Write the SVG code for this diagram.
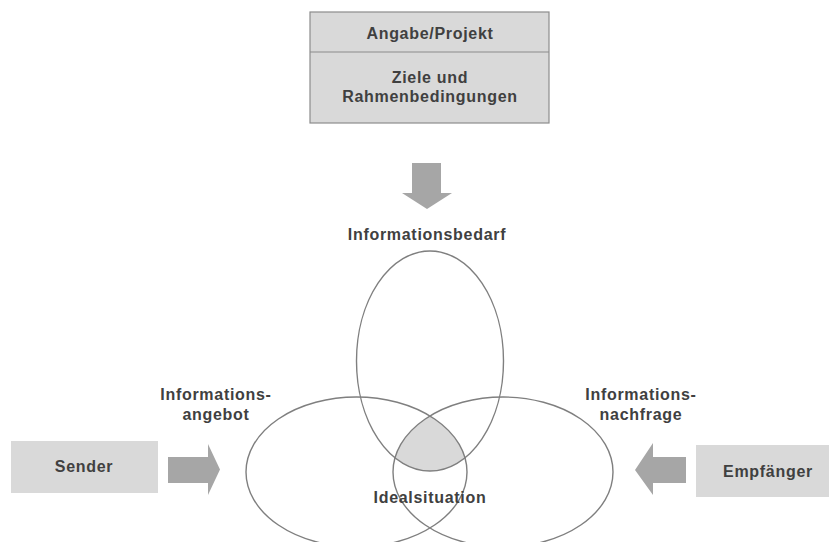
<svg xmlns="http://www.w3.org/2000/svg" width="829" height="542" viewBox="0 0 829 542">
  <style>
    .lbl { font-family: "Liberation Sans", Arial, sans-serif; font-weight: bold; font-size: 16px; letter-spacing: 0.7px; fill: #404040; text-anchor: middle; }
    .box { fill: #d9d9d9; }
    .boxline { fill: none; stroke: #8c8c8c; stroke-width: 1.2; }
    .arrow { fill: #a6a6a6; }
    .set { fill: none; stroke: #7f7f7f; stroke-width: 1.4; }
  </style>
  <defs>
    <clipPath id="clipLeft"><ellipse cx="356.5" cy="472" rx="110.5" ry="75"/></clipPath>
    <clipPath id="clipRight"><ellipse cx="503" cy="472" rx="110" ry="75"/></clipPath>
  </defs>
  <rect width="829" height="542" fill="#ffffff"/>

  <!-- project box -->
  <g id="projekt">
    <rect class="box" x="310" y="12" width="239" height="111"/>
    <rect class="boxline" x="310" y="12" width="239" height="111"/>
    <line class="boxline" x1="310" y1="52" x2="549" y2="52"/>
    <text class="lbl" x="430" y="39">Angabe/Projekt</text>
    <text class="lbl" x="430" y="83">Ziele und</text>
    <text class="lbl" x="430" y="102">Rahmenbedingungen</text>
  </g>

  <g id="sender">
    <rect class="box" x="11" y="441" width="147" height="52"/>
    <text class="lbl" x="84" y="472">Sender</text>
  </g>

  <g id="empfaenger">
    <rect class="box" x="696" y="445" width="133" height="52"/>
    <text class="lbl" x="768" y="477">Empfänger</text>
  </g>

  <!-- overlap of all three sets -->
  <g id="idealsituation-flaeche" clip-path="url(#clipLeft)">
    <g clip-path="url(#clipRight)">
      <ellipse cx="430" cy="361" rx="73.5" ry="110" fill="#d9d9d9"/>
    </g>
  </g>

  <g id="informationsbedarf">
    <ellipse class="set" cx="430" cy="361" rx="73.5" ry="110"/>
    <text class="lbl" x="427" y="240">Informationsbedarf</text>
  </g>
  <g id="informationsangebot">
    <ellipse class="set" cx="356.5" cy="472" rx="110.5" ry="75"/>
    <text class="lbl" x="216" y="400">Informations-</text>
    <text class="lbl" x="216" y="420">angebot</text>
  </g>
  <g id="informationsnachfrage">
    <ellipse class="set" cx="503" cy="472" rx="110" ry="75"/>
    <text class="lbl" x="641" y="400">Informations-</text>
    <text class="lbl" x="641" y="420">nachfrage</text>
  </g>
  <g id="ideal">
    <text class="lbl" x="430" y="503">Idealsituation</text>
  </g>

  <!-- block arrows -->
  <g id="connectors">
    <polygon class="arrow" points="412,163 441,163 441,193 452,193 427,209 402,193 412,193"/>
    <polygon class="arrow" points="168,457 208,457 208,444 220,469.5 208,495 208,483 168,483"/>
    <polygon class="arrow" points="686,457 653,457 653,443 635,470 653,495 653,483 686,483"/>
  </g>
</svg>
